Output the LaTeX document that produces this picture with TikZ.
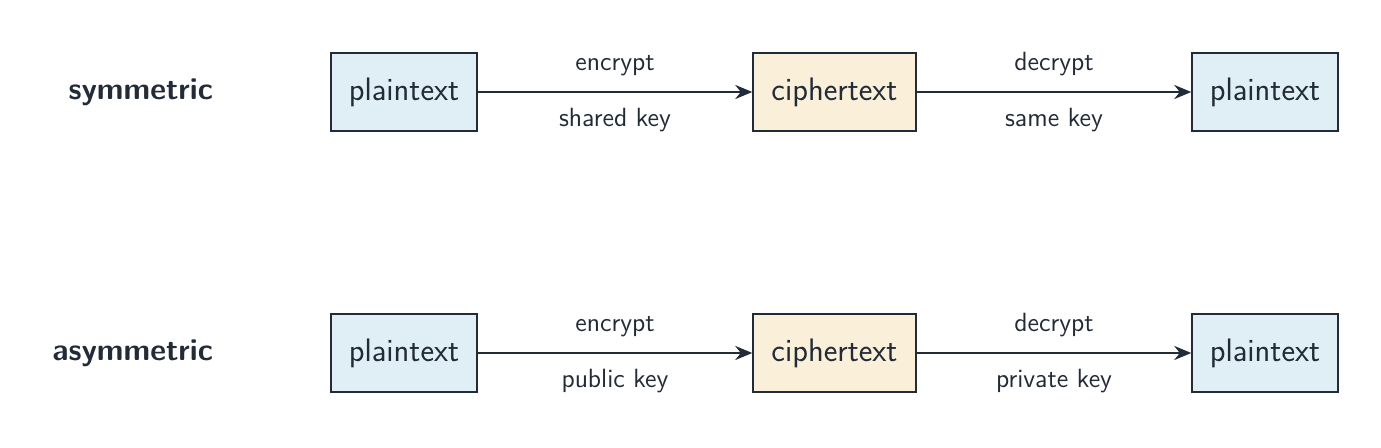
\documentclass[tikz,border=0pt]{standalone}
\usetikzlibrary{positioning,arrows.meta}
\definecolor{ink}{HTML}{222B38}
\definecolor{plainfill}{HTML}{E0EEF5}
\definecolor{cipherfill}{HTML}{FAF0DA}
\tikzset{
  box/.style={draw=ink, thick, fill=plainfill, minimum width=2.92cm, minimum height=1.56cm,
    font=\sffamily\fontsize{18.5}{22}\selectfont, text=ink},
  cbox/.style={box, fill=cipherfill, minimum width=3.26cm},
  flow/.style={-{Stealth[length=3.4mm,width=2.8mm]}, line width=1.6pt, draw=ink},
  lbl/.style={font=\sffamily\fontsize{15}{18}\selectfont, text=ink},
  row/.style={font=\sffamily\bfseries\fontsize{17.5}{21}\selectfont, text=ink, anchor=east}
}
\begin{document}
\begin{tikzpicture}
\useasboundingbox (0,0) rectangle (27.62,8.94);
% symmetric row
\node[row] (symlbl) at (4.38,7.1) {symmetric};
\node[box] (sp1) at (8.08,7.1) {plaintext};
\node[cbox] (sc) at (16.69,7.1) {ciphertext};
\node[box] (sp2) at (25.3,7.1) {plaintext};
\draw[flow] (sp1) -- node[lbl, above=0.18cm] {encrypt} node[lbl, below=0.18cm] {shared key} (sc);
\draw[flow] (sc) -- node[lbl, above=0.18cm] {decrypt} node[lbl, below=0.18cm] {same key} (sp2);
% asymmetric row
\node[row] (asymlbl) at (4.38,1.88) {asymmetric};
\node[box] (ap1) at (8.08,1.88) {plaintext};
\node[cbox] (ac) at (16.69,1.88) {ciphertext};
\node[box] (ap2) at (25.3,1.88) {plaintext};
\draw[flow] (ap1) -- node[lbl, above=0.18cm] {encrypt} node[lbl, below=0.18cm] {public key} (ac);
\draw[flow] (ac) -- node[lbl, above=0.18cm] {decrypt} node[lbl, below=0.18cm] {private key} (ap2);
\end{tikzpicture}
\end{document}
